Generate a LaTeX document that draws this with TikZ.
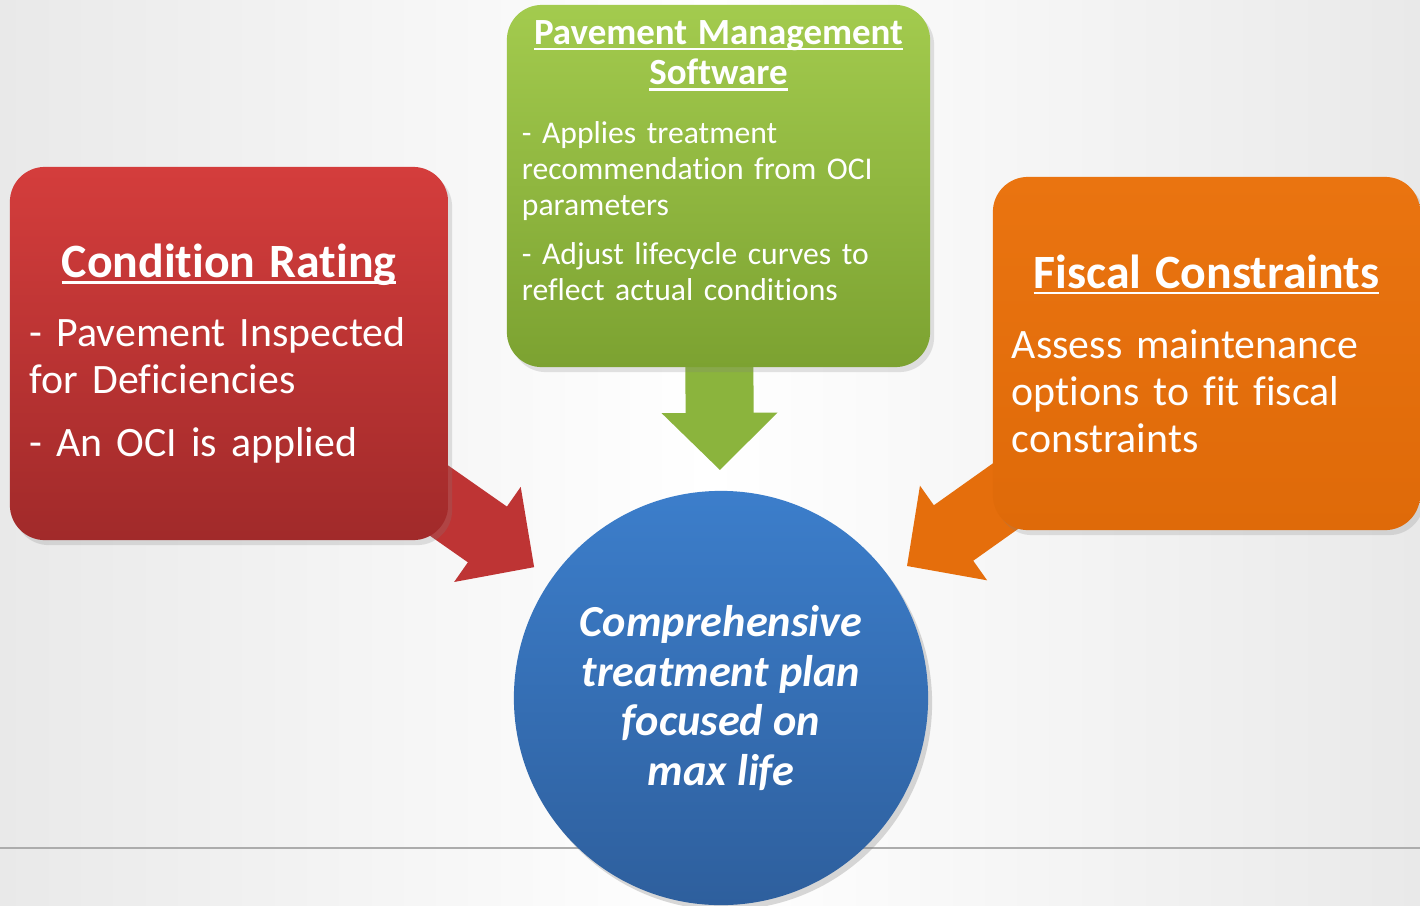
\documentclass[tikz,border=0pt]{standalone}
\usepackage{fontspec}
\setmainfont{Carlito}[Ligatures=NoCommon]
\usetikzlibrary{calc,shadows}

\pgfdeclarelayer{back}
\pgfdeclarelayer{arrows}
\pgfsetlayers{back,arrows,main}

\definecolor{bggray}{HTML}{E9E9E9}
\definecolor{redtop}{HTML}{D43D3C}
\definecolor{redbot}{HTML}{A12A2A}
\definecolor{redarr}{HTML}{BE3434}
\definecolor{greentop}{HTML}{A3CB4E}
\definecolor{greenbot}{HTML}{7CA231}
\definecolor{greenarr}{HTML}{8BB43D}
\definecolor{orangetop}{HTML}{EA7410}
\definecolor{orangebot}{HTML}{DF6A09}
\definecolor{orangearr}{HTML}{E56E0C}
\definecolor{bluetop}{HTML}{3C7ECB}
\definecolor{bluebot}{HTML}{2E5F9D}

% underlined title text
\newsavebox{\undlbox}
\newcommand{\undl}[1]{\leavevmode\sbox{\undlbox}{#1}\rlap{\rule[-1.8pt]{\wd\undlbox}{0.8pt}}\usebox{\undlbox}}

% block arrow from a box to the plan circle
\newcommand{\blockarrow}[2]{%
  \coordinate (#1tip) at ($(plan.center)!2.28cm!(#1.center)$);
  \coordinate (#1base) at ($(#1tip)!0.57cm!(#1.center)$);
  \draw[#2, line width=0.68cm] (#1.center) -- ($(#1base)!-0.03cm!(#1.center)$);
  \fill[#2] ($(#1base)!0.58cm!90:(#1tip)$) -- (#1tip) -- ($(#1base)!0.58cm!-90:(#1tip)$) -- cycle;
}

\begin{document}
\begin{tikzpicture}[x=0.01cm,y=-0.01cm,
  box/.style={rounded corners=0.35cm, text=white, align=left, inner sep=0pt,
    drop shadow={opacity=0.22, shadow xshift=0.04cm, shadow yshift=-0.05cm}},
  ]
\useasboundingbox (0,0) rectangle (1420,905);

\begin{pgfonlayer}{back}
\shade[left color=bggray, right color=bggray, middle color=white] (0,0) rectangle (1420,905);
\draw[gray!65, line width=0.6pt] (0,848) -- (1420,848);
\end{pgfonlayer}

\node[box, top color=redtop, bottom color=redbot, minimum width=4.38cm, minimum height=3.73cm,
  text width=3.98cm, font=\fontsize{11.9}{13.3}\selectfont] (cond) at (229,353.5)
  {{\centering\fontsize{13.6}{16}\selectfont\bfseries\undl{Condition Rating}\par}\vspace{6.3pt}
   - Pavement Inspected\\for Deficiencies\par\vspace{4.5pt}
   - An OCI is applied};

\node[box, top color=greentop, bottom color=greenbot, minimum width=4.23cm, minimum height=3.62cm,
  text width=3.93cm, font=\fontsize{9}{10.2}\selectfont] (pms) at (718.5,186)
  {{\centering\fontsize{10.5}{11.6}\selectfont\bfseries\undl{Pavement Management}\\\undl{Software}\par}\vspace{6.5pt}
   - Applies treatment\\recommendation from OCI\\parameters\par\vspace{3.7pt}
   - Adjust lifecycle curves to\\reflect actual conditions\par\vspace{4.5pt}\mbox{}};

\node[box, top color=orangetop, bottom color=orangebot, minimum width=4.27cm, minimum height=3.53cm,
  text width=3.89cm, font=\fontsize{11.9}{13.3}\selectfont] (fisc) at (1206.5,353.5)
  {{\centering\fontsize{13.6}{16}\selectfont\bfseries\undl{Fiscal Constraints}\par}\vspace{6.8pt}
   Assess maintenance\\options to fit fiscal\\constraints};

\node[circle, minimum size=4.14cm, inner sep=0pt, top color=bluetop, bottom color=bluebot, text=white,
  align=center, font=\fontsize{12.6}{14.2}\selectfont\bfseries\itshape,
  drop shadow={opacity=0.3, shadow xshift=0.04cm, shadow yshift=-0.05cm}] (plan) at (721,698)
  {Comprehensive\\treatment plan\\focused on\\max life};

\begin{pgfonlayer}{arrows}
\blockarrow{cond}{redarr}
\blockarrow{pms}{greenarr}
\blockarrow{fisc}{orangearr}
\end{pgfonlayer}
\end{tikzpicture}
\end{document}
